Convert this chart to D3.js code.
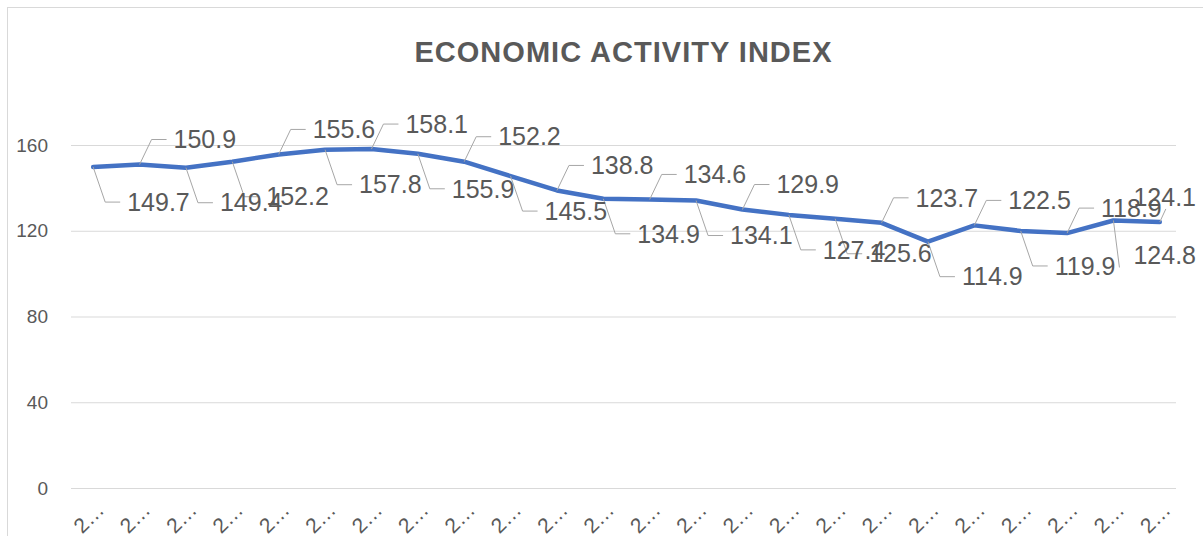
<!DOCTYPE html>
<html>
<head>
<meta charset="utf-8">
<script src="https://cdn.jsdelivr.net/npm/d3@7"></script>
<style>
  body { margin: 0; background: #fff; }
  text { font-family: "Liberation Sans", Arial, sans-serif; }
</style>
</head>
<body>
<svg id="chart" width="1203" height="536"></svg>
<script>
// chart data
var title = "ECONOMIC ACTIVITY INDEX";
var categories = ["2…","2…","2…","2…","2…","2…","2…","2…","2…","2…","2…","2…",
                  "2…","2…","2…","2…","2…","2…","2…","2…","2…","2…","2…","2…"];
var values = [149.7, 150.9, 149.4, 152.2, 155.6, 157.8, 158.1, 155.9, 152.2, 145.5, 138.8, 134.9,
              134.6, 134.1, 129.9, 127.4, 125.6, 123.7, 114.9, 122.5, 119.9, 118.9, 124.8, 124.1];
var yTicks = [0, 40, 80, 120, 160];
// which side of the line each data label sits on (a = above, b = below)
var labelSide = ["b","a","b","b","a","b","a","b","a","b","a","b",
                 "a","b","a","b","b","a","b","a","b","a","b","a"];

var svg = d3.select("#chart");

// chart border
svg.append("rect")
  .attr("x", 7.5).attr("y", 7.5)
  .attr("width", 1210).attr("height", 540)
  .style("fill", "none")
  .style("stroke", "#d9d9d9")
  .style("stroke-width", "1px");

var x = d3.scalePoint()
  .domain(d3.range(values.length))
  .range([70, 1183])
  .padding(0.5);

var y = d3.scaleLinear()
  .domain([0, 160])
  .range([488, 145]);

// title
svg.append("text")
  .attr("x", 623).attr("y", 62)
  .attr("text-anchor", "middle")
  .attr("textLength", 417)
  .attr("lengthAdjust", "spacing")
  .style("font-size", "29px")
  .style("font-weight", "bold")
  .style("fill", "#595959")
  .text(title);

// gridlines + y labels
var yAxis = svg.append("g")
  .attr("transform", "translate(71,0)")
  .call(d3.axisLeft(y).tickValues(yTicks).tickSize(-1105).tickPadding(23));
yAxis.select(".domain").remove();
yAxis.selectAll(".tick line").style("stroke", "#d9d9d9").style("stroke-width", "1px");
yAxis.selectAll(".tick text")
  .style("font-size", "19px")
  .style("fill", "#595959");

// x labels
var xAxis = svg.append("g")
  .attr("transform", "translate(0,488)")
  .call(d3.axisBottom(x).tickSize(0).tickFormat(function(i) { return categories[i]; }));
xAxis.select(".domain").remove();
xAxis.selectAll(".tick text")
  .attr("y", 0).attr("dy", 0)
  .attr("text-anchor", "middle")
  .attr("transform", "translate(0,35) rotate(-45)")
  .style("font-size", "21px")
  .style("fill", "#595959");

// line
var line = d3.line()
  .x(function(d, i) { return x(i); })
  .y(function(d) { return y(d); });

svg.append("path")
  .datum(values)
  .attr("d", line)
  .style("fill", "none")
  .style("stroke", "#4472C4")
  .style("stroke-width", "4.5px")
  .style("stroke-linejoin", "round")
  .style("stroke-linecap", "round");

// data labels with leader lines
var leaders = svg.append("g");
var labels = svg.append("g");

values.forEach(function(v, i) {
  var px = x(i), py = y(v);
  var cy = py + (labelSide[i] == "a" ? -25 : 35);
  var t = labels.append("text")
    .attr("y", cy).attr("dy", "0.35em")
    .style("font-size", "25px")
    .style("fill", "#595959")
    .text(v.toFixed(1));
  var w = t.node().getComputedTextLength();
  var lx = px + 34;
  var clamped = false;
  if (lx + w > 1196) { lx = 1196 - w; clamped = true; }
  t.attr("x", lx);

  var d;
  if (clamped) {
    d = "M" + px + "," + py + "L" + (px + 6) + "," + (cy + 12);
  } else {
    d = "M" + px + "," + py + "L" + (lx - 22) + "," + cy + "L" + (lx - 7) + "," + cy;
  }
  leaders.append("path")
    .attr("d", d)
    .style("fill", "none")
    .style("stroke", "#a6a6a6")
    .style("stroke-width", "1px");
});
</script>
</body>
</html>
